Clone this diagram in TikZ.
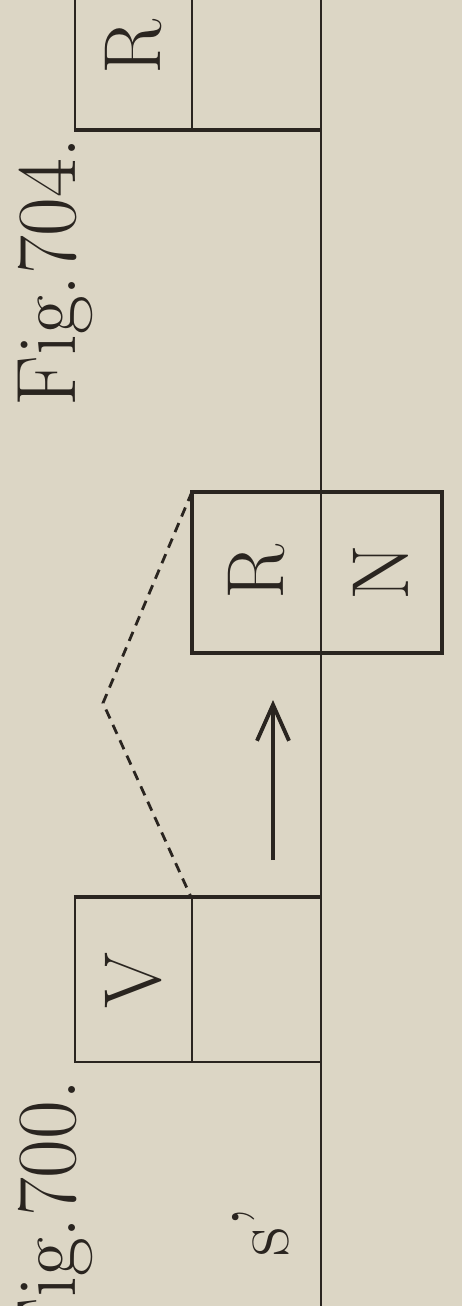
\documentclass[tikz,border=0pt]{standalone}
\usepackage{fontspec}
\usepackage{xcolor}
\usepackage{tikz}
\definecolor{figPaper}{HTML}{DCD6C5}
\definecolor{figInk}{HTML}{2A2520}
\usetikzlibrary{arrows.meta}

\begin{document}
\begin{tikzpicture}[
    cell/.style={draw=figInk, line width=0.6pt, inner sep=0pt, text=figInk,
      font=\fontsize{23}{23}\selectfont},
    lbl/.style={rotate=90, inner sep=0pt, text=figInk,
      font=\fontsize{23}{23}\selectfont},
    figlbl/.style={lbl, font=\fontsize{24}{24}\selectfont\addfontfeature{LetterSpace=2}}
  ]
    \useasboundingbox (0,0) rectangle (4.62,-13.06);
    \fill[figPaper] (0,0) rectangle (4.62,-13.06);

    \coordinate (L0) at (3.21,0.4);
    \coordinate (L1) at (3.21,-13.4);
    \coordinate (A) at (1.03,-7.03);
    \coordinate (S0) at (2.73,-8.60);
    \coordinate (S1) at (2.73,-7.00);

    \draw[figInk, line width=0.6pt] (L0)--(L1);

    \node[cell, minimum width=1.17cm, minimum height=1.64cm] (R1) at (1.335,-0.47) {\rotatebox{90}{R}};
    \node[cell, minimum width=1.29cm, minimum height=1.64cm] (E1) at (2.565,-0.47) {};
    \draw[figInk, line width=0.9pt] (R1.south west)--(E1.south east);

    \node[cell, minimum width=1.28cm, minimum height=1.59cm] (R2) at (2.57,-5.725) {\rotatebox{90}{R}};
    \node[cell, minimum width=1.20cm, minimum height=1.59cm] (N2) at (3.81,-5.725) {\rotatebox{90}{N}};
    \draw[figInk, line width=1.1pt] (R2.north west) rectangle (N2.south east);

    \node[cell, minimum width=1.17cm, minimum height=1.64cm] (V3) at (1.335,-9.80) {\rotatebox{90}{V}};
    \node[cell, minimum width=1.29cm, minimum height=1.64cm] (E3) at (2.565,-9.80) {};
    \draw[figInk, line width=1.1pt] (V3.north west)--(E3.north east);

    \draw[figInk, line width=0.8pt, dash pattern=on 2.8pt off 2pt] (R2.north west)--(A)--(E3.north west);
    \draw[figInk, line width=1.1pt, -{Straight Barb[length=3.6mm,width=3.2mm]}] (S0)--(S1);

    \node[figlbl, anchor=base east] (F704) at (0.75,-1.37) {Fig.704.};
    \node[figlbl, anchor=base east] (F700) at (0.75,-10.79) {Fig.700.};
    \node[lbl, anchor=base west] (S) at (2.88,-12.57) {s'};
  \end{tikzpicture}
\end{document}
